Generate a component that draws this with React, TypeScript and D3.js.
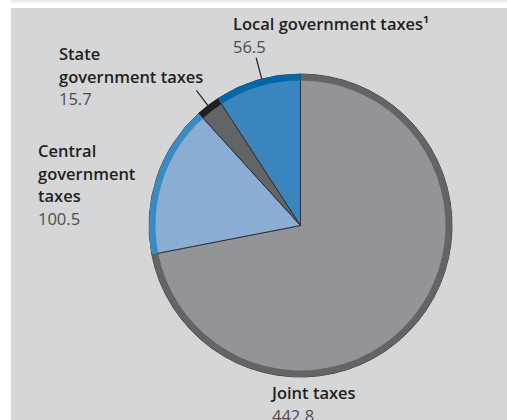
import React, { useEffect } from "react";
import * as d3 from "d3";

const categories = ["Joint taxes", "Central government taxes", "State government taxes", "Local government taxes¹"];
const values = [442.8, 100.5, 15.7, 56.5];
const valueLabels = ["442.8", "100.5", "15.7", "56.5"];
const fillColors = ["#929497", "#8badd3", "#636466", "#3a85bd"];
const ringColors = ["#636466", "#3b8bc3", "#231f20", "#0067a8"];

const W = 507;
const H = 420;
const cx = 300.5;
const cy = 225.5;
const R = 151.5;
const ringW = 6.5;

const labelLines = [
  { lines: ["Joint taxes"], x: 272, y: 399 },
  { lines: ["Central", "government", "taxes"], x: 38, y: 157 },
  { lines: ["State", "government taxes"], x: 59, y: 60 },
  { lines: ["Local government taxes¹"], x: 233, y: 30 },
];
const leaders = [null, null, { r0: R, r1: R + 19, shift: 0 }, { r0: R, r1: R + 22, shift: 0.03 }];

export default function App() {
  useEffect(() => {
    document.documentElement.style.overflow = "hidden";
    document.body.style.overflow = "hidden";
  }, []);
  const pie = d3.pie<number>().sort(null).value((d) => d)(values);
  const arcFill = d3.arc<d3.PieArcDatum<number>>().innerRadius(0).outerRadius(R);
  const arcRing = d3.arc<d3.PieArcDatum<number>>().innerRadius(R - ringW).outerRadius(R);
  const lh = 22.5;
  const fs = 16.5;
  return (
    <svg
      width={W}
      height={H}
      style={{ position: "absolute", left: 0, top: 0, display: "block" }}
      fontFamily="'Open Sans', 'Noto Sans', sans-serif"
    >
      <rect x={0} y={0} width={W} height={H} fill="#ffffff" />
      <rect x={11} y={0} width={W - 11} height={2.5} fill="#ebebeb" />
      <rect x={11} y={8} width={W - 11} height={H - 8} fill="#d5d6d8" />
      <g transform={`translate(${cx},${cy})`}>
        {pie.map((p, i) => (
          <path key={"f" + i} d={arcFill(p) || ""} fill={fillColors[i]} stroke="#2a2a2c" strokeWidth={0.9} />
        ))}
        {pie.map((p, i) => (
          <path key={"r" + i} d={arcRing(p) || ""} fill={ringColors[i]} />
        ))}
        {pie.map((p, i) => {
          const L = leaders[i];
          if (!L) return null;
          const a = (p.startAngle + p.endAngle) / 2 + L.shift;
          return (
            <line
              key={"l" + i}
              x1={Math.sin(a) * L.r0}
              y1={-Math.cos(a) * L.r0}
              x2={Math.sin(a) * L.r1}
              y2={-Math.cos(a) * L.r1}
              stroke="#231f20"
              strokeWidth={1.2}
            />
          );
        })}
      </g>
      {labelLines.map((lab, i) => (
        <g key={"t" + i}>
          {lab.lines.map((ln, j) => (
            <text key={j} x={lab.x} y={lab.y + j * lh} fontSize={fs} fontWeight={600} fill="#231f20">
              {ln}
            </text>
          ))}
          <text x={lab.x} y={lab.y + lab.lines.length * lh} fontSize={fs} fontWeight={400} fill="#4d4d4f">
            {valueLabels[i]}
          </text>
        </g>
      ))}
    </svg>
  );
}
